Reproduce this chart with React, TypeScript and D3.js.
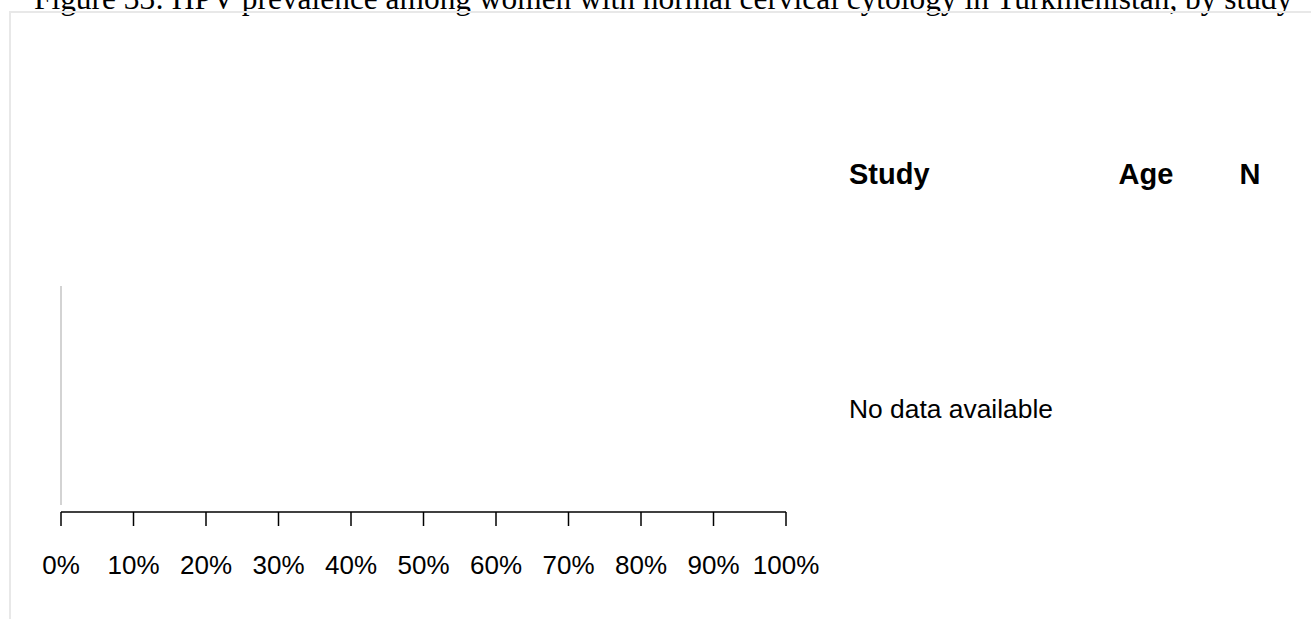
import React from "react";
import * as d3 from "d3";

const TITLE = "Figure 33: HPV prevalence among women with normal cervical cytology in Turkmenistan, by study";
const tickValues = [0, 0.1, 0.2, 0.3, 0.4, 0.5, 0.6, 0.7, 0.8, 0.9, 1.0];
const headers = ["Study", "Age", "N"];
const studies: { name: string; age: string; n: number; value: number }[] = [];
const emptyMessage = "No data available";

const W = 1311;
const H = 619;

export default function App() {
  const x = d3.scaleLinear().domain([0, 1]).range([61, 786]);
  const fmt = d3.format(".0%");
  const axisY = 512;
  const sans = "'Liberation Sans', Arial, Helvetica, sans-serif";
  return (
    <svg
      width={W}
      height={H}
      style={{ position: "absolute", left: 0, top: 0, background: "#fff" }}
      fontFamily={sans}
    >
      <text x={34} y={9} fontFamily="'Liberation Serif', 'Times New Roman', serif" fontSize={31.4} fill="#000">
        {TITLE}
      </text>
      <rect x={10} y={12} width={W + 20} height={H + 20} fill="none" stroke="#e8e8e8" strokeWidth={2} />
      <line x1={x(0)} x2={x(0)} y1={286} y2={505} stroke="#d3d3d3" strokeWidth={2} />
      <line x1={x(0)} x2={x(1)} y1={axisY} y2={axisY} stroke="#000" strokeWidth={1.5} />
      {tickValues.map((t) => (
        <g key={t} transform={`translate(${x(t)},0)`}>
          <line y1={axisY} y2={axisY + 14} stroke="#000" strokeWidth={1.5} />
          <text y={574} textAnchor="middle" fontSize={26} fill="#000">
            {fmt(t)}
          </text>
        </g>
      ))}
      <text x={849} y={184} fontSize={29} fontWeight="bold">{headers[0]}</text>
      <text x={1146} y={184} fontSize={29} fontWeight="bold" textAnchor="middle">{headers[1]}</text>
      <text x={1250} y={184} fontSize={29} fontWeight="bold" textAnchor="middle">{headers[2]}</text>
      {studies.length === 0 && (
        <text x={849} y={418} fontSize={26.4}>{emptyMessage}</text>
      )}
    </svg>
  );
}
